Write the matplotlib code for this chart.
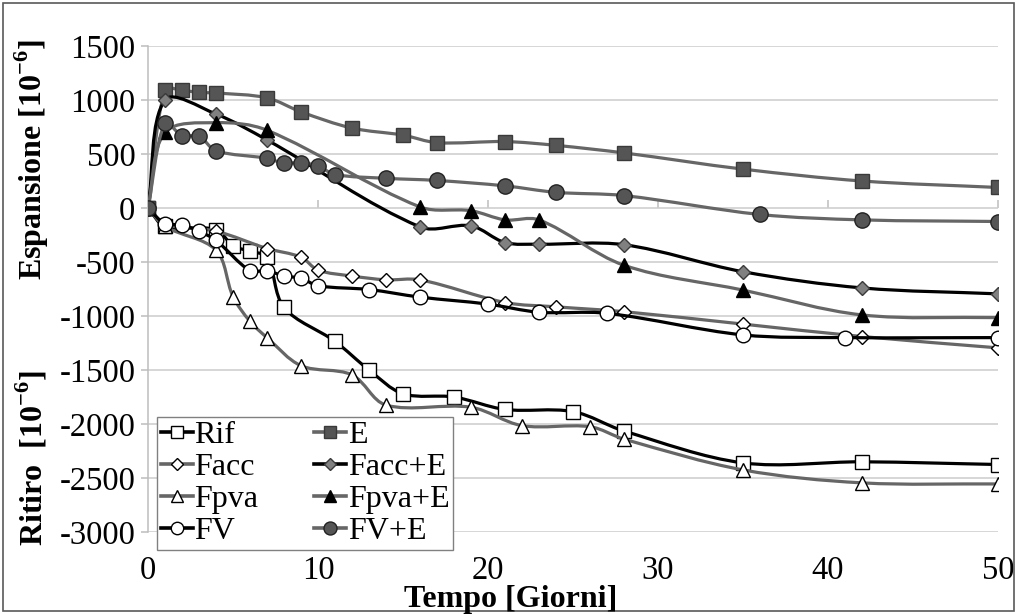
import numpy as np
import matplotlib
matplotlib.use("Agg")
import matplotlib.pyplot as plt
from matplotlib.path import Path
from matplotlib.patches import PathPatch, Rectangle

plt.rcParams['font.family'] = ['Liberation Serif', 'DejaVu Serif']
plt.rcParams['mathtext.fontset'] = 'custom'
plt.rcParams['mathtext.rm'] = 'Liberation Serif'
plt.rcParams['mathtext.bf'] = 'Liberation Serif:bold'
plt.rcParams['axes.unicode_minus'] = False

# deformazioni [10^-6] per ogni impasto
days_rif = [0, 1, 4, 5, 6, 7, 8, 11, 13, 15, 18, 21, 25, 28, 35, 42, 50]
rif = [0, -170, -200, -350, -400, -455, -920, -1235, -1500, -1720, -1750, -1865, -1885, -2065, -2360, -2350, -2375]

days_e = [0, 1, 2, 3, 4, 7, 9, 12, 15, 17, 21, 24, 28, 35, 42, 50]
e = [0, 1095, 1090, 1070, 1065, 1020, 890, 740, 675, 605, 615, 580, 510, 360, 250, 190]

days_facc = [0, 1, 4, 7, 9, 10, 12, 14, 16, 21, 24, 28, 35, 42, 50]
facc = [0, -150, -215, -375, -455, -575, -630, -665, -665, -875, -915, -960, -1075, -1190, -1295]

days_facc_e = [0, 1, 4, 7, 16, 19, 21, 23, 28, 35, 42, 50]
facc_e = [0, 1000, 870, 630, -175, -165, -320, -335, -340, -590, -740, -795]

days_fpva = [0, 1, 4, 5, 6, 7, 9, 12, 14, 19, 22, 26, 28, 35, 42, 50]
fpva = [0, -170, -390, -820, -1050, -1200, -1460, -1545, -1825, -1845, -2015, -2025, -2140, -2425, -2545, -2555]

days_fpva_e = [0, 1, 4, 7, 16, 19, 21, 23, 28, 35, 42, 50]
fpva_e = [0, 700, 790, 720, 10, -25, -110, -110, -530, -760, -990, -1015]

days_fv = [0, 1, 2, 3, 4, 6, 7, 8, 9, 10, 13, 16, 20, 23, 27, 35, 41, 50]
fv = [0, -145, -155, -215, -300, -580, -580, -630, -650, -720, -755, -825, -890, -965, -975, -1175, -1200, -1200]

days_fv_e = [0, 1, 2, 3, 4, 7, 8, 9, 10, 11, 14, 17, 21, 24, 28, 36, 42, 50]
fv_e = [0, 790, 670, 665, 530, 460, 415, 420, 390, 310, 275, 255, 205, 145, 115, -60, -110, -125]

GRAY = '#666666'
DARK = '#555555'
MID = '#808080'

# (label, x, y, colore linea, marker, riempimento, bordo, dimensione)
series = [
    ('Rif', days_rif, rif, 'black', 's', 'white', 'black', 9.5),
    ('E', days_e, e, GRAY, 's', DARK, '#3a3a3a', 9.5),
    ('Facc', days_facc, facc, GRAY, 'D', 'white', 'black', 7),
    ('Facc+E', days_facc_e, facc_e, 'black', 'D', MID, '#3a3a3a', 7),
    ('Fpva', days_fpva, fpva, GRAY, '^', 'white', 'black', 10),
    ('Fpva+E', days_fpva_e, fpva_e, GRAY, '^', 'black', 'black', 10),
    ('FV', days_fv, fv, 'black', 'o', 'white', 'black', 10.5),
    ('FV+E', days_fv_e, fv_e, GRAY, 'o', DARK, '#222222', 11),
]

XMIN, XMAX, YMIN, YMAX = 0, 50, -3000, 1500
AX_W, AX_H = 850, 486  # pixel dell'area del grafico


def smooth_path(x, y):
    # Bezier con tangenti pesate sulla lunghezza dei tratti (linea smussata)
    sx = AX_W / (XMAX - XMIN)
    sy = AX_H / (YMAX - YMIN)
    p = np.column_stack([np.asarray(x, float) * sx, np.asarray(y, float) * sy])
    n = len(p)
    d = np.hypot(*np.diff(p, axis=0).T)
    verts = [p[0]]
    codes = [Path.MOVETO]
    for i in range(n - 1):
        # tangente in i
        a = p[i + 1] - (p[i - 1] if i > 0 else p[i])
        da = (d[i - 1] if i > 0 else 0.0) + d[i]
        c1 = p[i] + a * d[i] / da / 3.0
        b = (p[i + 2] if i + 2 < n else p[i + 1]) - p[i]
        db = d[i] + (d[i + 1] if i + 2 < n else 0.0)
        c2 = p[i + 1] - b * d[i] / db / 3.0
        verts += [c1, c2, p[i + 1]]
        codes += [Path.CURVE4] * 3
    verts = np.array(verts) / [sx, sy]
    return Path(verts, codes)


fig = plt.figure(figsize=(10.17, 6.14), dpi=100)
ax = fig.add_axes([148 / 1017, 1 - 532 / 614, AX_W / 1017, AX_H / 614])

handles = []
for k, (lab, xs, ys, lc, mk, fc, ec, ms) in enumerate(series):
    patch = PathPatch(smooth_path(xs, ys), facecolor='none', edgecolor=lc,
                      lw=2.3, zorder=3 + k * 0.1, capstyle='round', joinstyle='round')
    ax.add_patch(patch)
    ax.plot(xs, ys, ls='none', marker=mk, ms=ms, mfc=fc, mec=ec, mew=1.0,
            zorder=3.05 + k * 0.1)
    h, = ax.plot([], [], color=lc, lw=2.6, marker=mk, ms=ms * 0.85, mfc=fc,
                 mec=ec, mew=1.0, label=lab)
    handles.append(h)

ax.set_xlim(XMIN, XMAX)
ax.set_ylim(YMIN, YMAX)
ax.set_xticks(np.arange(0, 51, 10))
ax.set_yticks(np.arange(-3000, 1501, 500))
ax.grid(axis='y', color='#cccccc', lw=1.1, zorder=0)
ax.set_axisbelow(True)

for s in ['top', 'right', 'bottom']:
    ax.spines[s].set_visible(False)
ax.spines['left'].set_color('#bdbdbd')
ax.spines['left'].set_linewidth(1.1)

ax.tick_params(axis='y', direction='out', length=5, width=1.1, color='#bdbdbd',
               labelsize=23.5, pad=4)
ax.tick_params(axis='x', length=0, labelsize=23.5, pad=17)

# tacche dell'asse orizzontale sulla linea dello zero
loc0 = (0 - YMIN) / (YMAX - YMIN)
sec = ax.secondary_xaxis(loc0)
sec.set_xticks(np.arange(0, 51, 10))
sec.tick_params(axis='x', direction='out', length=6, width=1.1, color='#bdbdbd',
                labelbottom=False, labeltop=False)
for s in sec.spines.values():
    s.set_visible(False)

order = [0, 2, 4, 6, 1, 3, 5, 7]
leg = ax.legend([handles[i] for i in order], [series[i][0] for i in order],
                ncol=2, loc='lower left', bbox_to_anchor=(0.0106, -0.037),
                fontsize=23, frameon=True, fancybox=False, framealpha=1,
                edgecolor='#808080', borderpad=0.12, labelspacing=0.08,
                handlelength=1.0, handletextpad=0.05, columnspacing=1.75,
                borderaxespad=0)
leg.get_frame().set_linewidth(1.0)
leg.set_zorder(10)

fig.text(511 / 1017, 1 - 600 / 614, 'Tempo [Giorni]', ha='center', va='center',
         fontsize=23, fontweight='bold')
fig.text(32 / 1017, 1 - 160 / 614, r'Espansione [10$^{\mathbf{-6}}$]', rotation=90,
         ha='center', va='center', fontsize=23, fontweight='bold')
fig.text(32 / 1017, 1 - 458 / 614, r'Ritiro  [10$^{\mathbf{-6}}$]', rotation=90,
         ha='center', va='center', fontsize=23, fontweight='bold')

fig.patches.append(Rectangle((3 / 1017, 3 / 614), 1011 / 1017, 608 / 614,
                             transform=fig.transFigure, fill=False,
                             edgecolor='#595959', lw=1.2))

fig.savefig('out.png', dpi=100)
